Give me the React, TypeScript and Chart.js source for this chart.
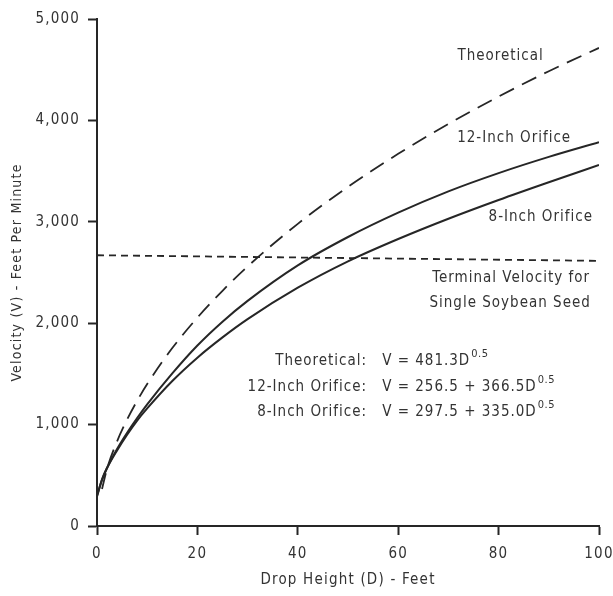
import React, { useEffect, useRef } from "react";
import { Chart, registerables } from "chart.js";

Chart.register(...registerables);

// Drop height (feet) sample points
const dropHeights = [0, 1, 2, 4, 6, 8, 10, 15, 20, 25, 30, 40, 50, 60, 70, 80, 90, 100];
const theoreticalHeights = [1, 2, 4, 6, 8, 10, 15, 20, 25, 30, 40, 50, 60, 70, 80, 90, 100];

// Velocity (feet per minute)
const theoreticalVelocity = [365, 565, 835, 1050, 1235, 1400, 1755, 2055, 2320, 2560, 2980, 3345, 3670, 3965, 4235, 4485, 4715];
const orifice12Velocity = [290, 460, 575, 760, 920, 1065, 1200, 1505, 1780, 2015, 2220, 2570, 2850, 3090, 3300, 3480, 3640, 3785];
const orifice8Velocity = [300, 455, 570, 745, 900, 1040, 1160, 1430, 1660, 1860, 2040, 2350, 2610, 2830, 3030, 3215, 3390, 3560];

const terminalHeights = [0, 100];
const terminalVelocity = [2670, 2615];

const xTicks = [0, 20, 40, 60, 80, 100];
const yTicks = [0, 1000, 2000, 3000, 4000, 5000];

const FONT = "'DejaVu Sans Condensed', 'DejaVu Sans', sans-serif";
const INK = "#262626";
const TEXT = "#333333";

const toPoints = (xs: number[], ys: number[]) => xs.map((x, i) => ({ x, y: ys[i] }));

const annotationPlugin = {
  id: "annotations",
  beforeDraw(chart: any) {
    chart.ctx.letterSpacing = "1.2px";
  },
  afterDatasetsDraw(chart: any) {
    const { ctx, scales } = chart;
    const X = (v: number) => scales.x.getPixelForValue(v);
    const Y = (v: number) => scales.y.getPixelForValue(v);
    ctx.save();
    ctx.fillStyle = TEXT;
    ctx.textBaseline = "middle";
    ctx.font = `15px ${FONT}`;
    ctx.letterSpacing = "1px";
    ctx.textAlign = "center";
    ctx.fillText("Theoretical", X(80.4), Y(4630));
    ctx.fillText("12-Inch Orifice", X(83.1), Y(3826));
    ctx.fillText("8-Inch Orifice", X(88.4), Y(3047));
    ctx.fillText("Terminal Velocity for", X(82.5), Y(2446));
    ctx.fillText("Single Soybean Seed", X(82.3), Y(2200));

    const eqs = [
      { label: "Theoretical:", body: "V = 481.3D", y: 1627 },
      { label: "12-Inch Orifice:", body: "V = 256.5 + 366.5D", y: 1371 },
      { label: "8-Inch Orifice:", body: "V = 297.5 + 335.0D", y: 1124 },
    ];
    eqs.forEach((e) => {
      ctx.font = `15px ${FONT}`;
      ctx.letterSpacing = "1px";
      ctx.textAlign = "right";
      ctx.fillText(e.label, X(53.8), Y(e.y));
      ctx.textAlign = "left";
      const bx = X(56.8);
      ctx.fillText(e.body, bx, Y(e.y));
      const w = ctx.measureText(e.body).width;
      ctx.font = `11px ${FONT}`;
      ctx.letterSpacing = "0.5px";
      ctx.fillText("0.5", bx + w + 1, Y(e.y) - 7);
    });
    ctx.restore();
  },
  afterDraw(chart: any) {
    chart.ctx.letterSpacing = "0px";
  },
};

export default function App() {
  const canvasRef = useRef<HTMLCanvasElement | null>(null);

  useEffect(() => {
    if (!canvasRef.current) return;
    const chart = new Chart(canvasRef.current, {
      type: "line",
      data: {
        datasets: [
          {
            label: "Theoretical",
            data: toPoints(theoreticalHeights, theoreticalVelocity),
            borderColor: INK,
            borderWidth: 1.8,
            borderDash: [16, 9],
            pointRadius: 0,
            cubicInterpolationMode: "monotone",
          },
          {
            label: "12-Inch Orifice",
            data: toPoints(dropHeights, orifice12Velocity),
            borderColor: INK,
            borderWidth: 2,
            pointRadius: 0,
            cubicInterpolationMode: "monotone",
          },
          {
            label: "8-Inch Orifice",
            data: toPoints(dropHeights, orifice8Velocity),
            borderColor: INK,
            borderWidth: 2,
            pointRadius: 0,
            cubicInterpolationMode: "monotone",
          },
          {
            label: "Terminal Velocity for Single Soybean Seed",
            data: toPoints(terminalHeights, terminalVelocity),
            borderColor: INK,
            borderWidth: 1.8,
            borderDash: [7, 5],
            pointRadius: 0,
          },
        ],
      },
      options: {
        responsive: false,
        animation: false,
        layout: { padding: { left: 0, right: 14, top: 19, bottom: 0 } },
        plugins: {
          legend: { display: false },
          tooltip: { enabled: false },
        },
        scales: {
          x: {
            type: "linear",
            min: 0,
            max: 100,
            afterFit: (s: any) => {
              s.height = 70;
              s.paddingLeft = 0;
              s.paddingRight = 0;
            },
            afterBuildTicks: (s: any) => {
              s.ticks = xTicks.map((v) => ({ value: v }));
            },
            grid: {
              drawOnChartArea: false,
              drawTicks: true,
              tickLength: 9,
              tickWidth: 2,
              tickColor: INK,
            },
            border: { display: true, color: INK, width: 2 },
            ticks: {
              color: TEXT,
              font: { family: FONT, size: 15 },
              padding: 10,
              maxRotation: 0,
              callback: (v: any) => String(v),
            },
            title: {
              display: true,
              text: "Drop Height (D) - Feet",
              color: TEXT,
              font: { family: FONT, size: 15 },
              padding: { top: 0, bottom: 7 },
            },
          },
          y: {
            type: "linear",
            min: 0,
            max: 5000,
            afterFit: (s: any) => {
              s.width = 97;
              s.paddingTop = 0;
              s.paddingBottom = 0;
            },
            afterBuildTicks: (s: any) => {
              s.ticks = yTicks.map((v) => ({ value: v }));
            },
            grid: {
              drawOnChartArea: false,
              drawTicks: true,
              tickLength: 9,
              tickWidth: 2,
              tickColor: INK,
            },
            border: { display: true, color: INK, width: 2 },
            ticks: {
              color: TEXT,
              font: { family: FONT, size: 15 },
              padding: 8,
              callback: (v: any) => Number(v).toLocaleString("en-US"),
            },
            title: {
              display: true,
              text: "Velocity (V) - Feet Per Minute",
              color: TEXT,
              font: { family: FONT, size: 14 },
              padding: { top: 9, bottom: 0 },
            },
          },
        },
      },
      plugins: [annotationPlugin],
    } as any);
    return () => chart.destroy();
  }, []);

  return (
    <div style={{ position: "fixed", left: 0, top: 0, width: 613, height: 596, background: "#ffffff" }}>
      <canvas ref={canvasRef} width={613} height={596} style={{ display: "block" }} />
    </div>
  );
}
